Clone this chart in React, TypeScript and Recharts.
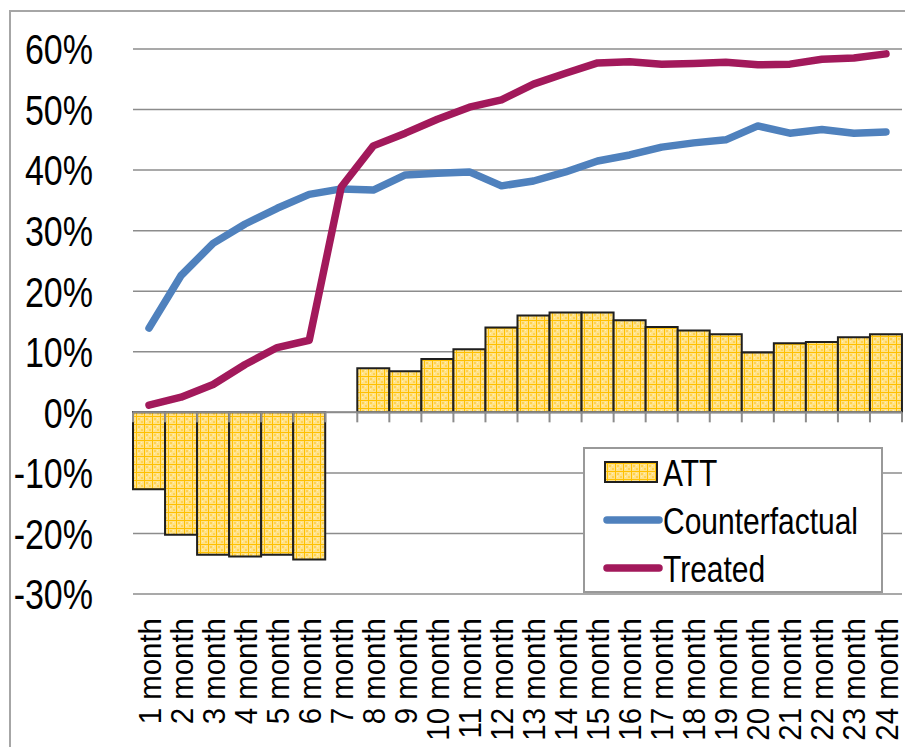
import {
  Bar,
  CartesianGrid,
  ComposedChart,
  Legend,
  Line,
  ReferenceLine,
  XAxis,
  YAxis,
} from "recharts";

const months = [
  "1 month", "2 month", "3 month", "4 month", "5 month", "6 month",
  "7 month", "8 month", "9 month", "10 month", "11 month", "12 month",
  "13 month", "14 month", "15 month", "16 month", "17 month", "18 month",
  "19 month", "20 month", "21 month", "22 month", "23 month", "24 month",
];

// values in percent
const att = [
  -12.7, -20.2, -23.5, -23.8, -23.5, -24.3, 0, 7.3, 6.8, 8.8, 10.4, 14.0,
  16.0, 16.5, 16.5, 15.2, 14.1, 13.5, 12.9, 9.9, 11.4, 11.6, 12.4, 12.9,
];
const counterfactual = [
  13.9, 22.6, 27.9, 31.1, 33.7, 36.0, 36.9, 36.7, 39.2, 39.5, 39.7, 37.4,
  38.2, 39.7, 41.5, 42.5, 43.8, 44.5, 45.0, 47.3, 46.1, 46.7, 46.1, 46.3,
];
const treated = [
  1.2, 2.5, 4.6, 7.9, 10.7, 11.9, 37.2, 44.0, 46.1, 48.4, 50.4, 51.6,
  54.2, 56.0, 57.7, 57.9, 57.5, 57.6, 57.8, 57.4, 57.5, 58.3, 58.5, 59.2,
];
const yTicks = [-30, -20, -10, 0, 10, 20, 30, 40, 50, 60];

const data = months.map((month, i) => ({
  month,
  att: att[i],
  counterfactual: counterfactual[i],
  treated: treated[i],
}));

const FONT = "'Liberation Sans', Arial, sans-serif";
const BLUE = "#4F81BD";
const CRIMSON = "#A2195B";
const GRID = "#8c8c8c";
const LINE_W = 7.5;

function PatternDefs() {
  return (
    <defs>
      <pattern id="attGrid" width="8" height="8" patternUnits="userSpaceOnUse">
        <rect width="8" height="8" fill="#FFE28A" />
        <rect x="2" y="2" width="2" height="2" fill="#FFD24F" />
        <rect x="5" y="5" width="2" height="2" fill="#FFD24F" />
        <rect x="5" y="2" width="1" height="1" fill="#FFF0B8" />
        <rect x="2" y="5" width="1" height="1" fill="#FFF0B8" />
        <path d="M0 0.5H8M0.5 0V8" stroke="#FFC000" strokeWidth="1" />
      </pattern>
    </defs>
  );
}

function YTick({ x, y, payload }: any) {
  return (
    <text
      transform={`translate(${x - 40},${y}) scale(1,1.25)`}
      textAnchor="end"
      dy="0.36em"
      fontSize={34}
      fontFamily={FONT}
      fill="#000"
    >
      {payload.value}%
    </text>
  );
}

function XTick({ x, y, payload }: any) {
  return (
    <text
      transform={`translate(${x},${y + 24}) rotate(-90) scale(0.92,1)`}
      textAnchor="end"
      dy="0.36em"
      fontSize={32}
      fontFamily={FONT}
      fill="#000"
    >
      {payload.value}
    </text>
  );
}

// tick marks on the zero line, at the category boundaries
function ZeroTicks({ viewBox }: any) {
  if (!viewBox) return null;
  const step = viewBox.width / months.length;
  return (
    <g>
      {months.concat("").map((_, i) => (
        <line
          key={i}
          x1={viewBox.x + i * step}
          x2={viewBox.x + i * step}
          y1={viewBox.y}
          y2={viewBox.y + 10}
          stroke={GRID}
          strokeWidth={2}
        />
      ))}
    </g>
  );
}

function LegendBox() {
  const label = (y: number, text: string) => (
    <text
      transform={`translate(80,${y}) scale(1,1.25)`}
      dy="0.36em"
      fontSize={30}
      fontFamily={FONT}
      fill="#000"
    >
      {text}
    </text>
  );
  return (
    <svg width={300} height={146} style={{ display: "block" }}>
      <rect x={1} y={1} width={298} height={144} fill="#fff" stroke="#999" strokeWidth={2} />
      <rect x={22} y={15} width={52} height={20} fill="url(#attGrid)" stroke="#1f1f1f" strokeWidth={2} />
      {label(25, "ATT")}
      <line x1={24} x2={76} y1={73} y2={73} stroke={BLUE} strokeWidth={LINE_W} strokeLinecap="round" />
      {label(73, "Counterfactual")}
      <line x1={24} x2={76} y1={121} y2={121} stroke={CRIMSON} strokeWidth={LINE_W} strokeLinecap="round" />
      {label(121, "Treated")}
    </svg>
  );
}

export default function App() {
  return (
    <div
      style={{
        position: "absolute",
        left: 0,
        top: 0,
        width: 905,
        height: 747,
        overflow: "hidden",
        background: "#fff",
      }}
    >
      <div
        style={{
          position: "absolute",
          left: 9,
          top: 10,
          width: 1000,
          height: 1000,
          border: "2px solid #a6a6a6",
        }}
      />
      <div style={{ position: "absolute", left: 0, top: 0 }}>
        <ComposedChart
          width={905}
          height={747}
          data={data}
          barCategoryGap={0}
          margin={{ top: 49, right: 3, bottom: 0, left: 13 }}
        >
          <PatternDefs />
          <CartesianGrid vertical={false} stroke={GRID} strokeWidth={1.5} />
          <XAxis
            dataKey="month"
            interval={0}
            height={153}
            axisLine={false}
            tickLine={false}
            tickSize={0}
            tickMargin={0}
            tick={<XTick />}
          />
          <YAxis
            domain={[-30, 60]}
            ticks={yTicks}
            width={120}
            axisLine={false}
            tickLine={false}
            tickSize={0}
            tickMargin={0}
            tick={<YTick />}
          />
          <Bar
            dataKey="att"
            name="ATT"
            fill="url(#attGrid)"
            stroke="#1f1f1f"
            strokeWidth={2}
            isAnimationActive={false}
          />
          <ReferenceLine y={0} stroke={GRID} strokeWidth={2} label={<ZeroTicks />} />
          <Line
            dataKey="counterfactual"
            name="Counterfactual"
            stroke={BLUE}
            strokeWidth={LINE_W}
            strokeLinecap="round"
            strokeLinejoin="round"
            dot={false}
            activeDot={false}
            isAnimationActive={false}
          />
          <Line
            dataKey="treated"
            name="Treated"
            stroke={CRIMSON}
            strokeWidth={LINE_W}
            strokeLinecap="round"
            strokeLinejoin="round"
            dot={false}
            activeDot={false}
            isAnimationActive={false}
          />
          <Legend
            layout="vertical"
            align="center"
            verticalAlign="middle"
            wrapperStyle={{ left: 583, top: 447, width: 300, height: 146 }}
            content={() => <LegendBox />}
          />
        </ComposedChart>
      </div>
    </div>
  );
}
